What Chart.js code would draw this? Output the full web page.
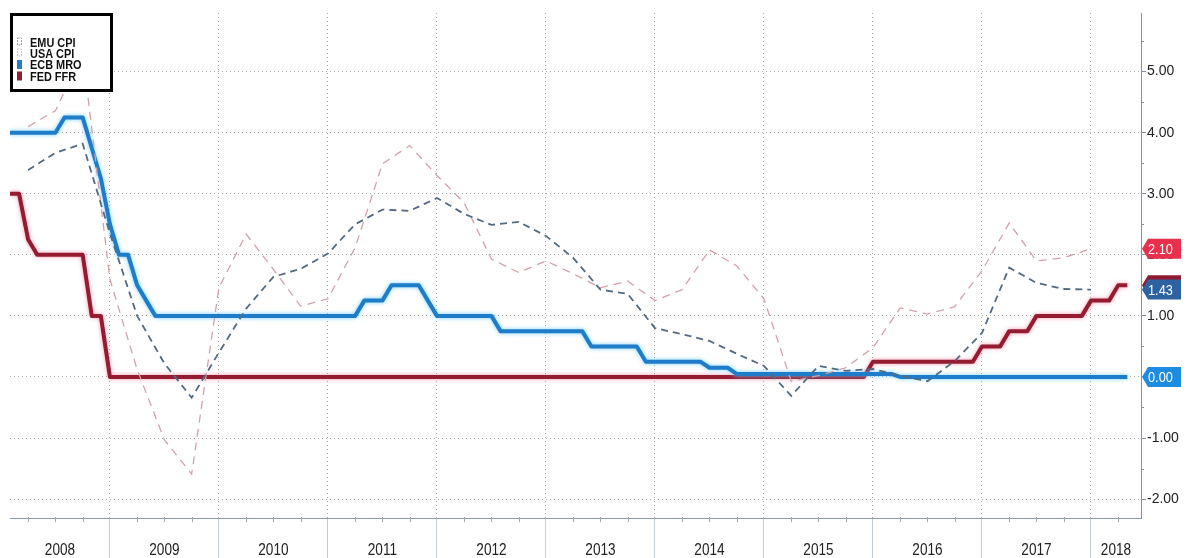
<!DOCTYPE html>
<html>
<head>
<meta charset="utf-8">
<script src="https://cdn.jsdelivr.net/npm/chart.js@4.4.1/dist/chart.umd.min.js"></script>
<style>
html,body{margin:0;padding:0;background:#fff;}
#wrap{width:1189px;height:558px;position:relative;}
canvas{display:block;}
</style>
</head>
<body>
<div id="wrap"><canvas id="c" width="1189" height="558"></canvas></div>
<script>
// ---------------- DATA ----------------
const seriesNames = ['EMU CPI', 'USA CPI', 'ECB MRO', 'FED FFR'];
const yearLabels = ['2008','2009','2010','2011','2012','2013','2014','2015','2016','2017','2018'];
const yTickValues = [-2, -1, 0, 1, 2, 3, 4, 5];

// Quarterly CPI (y/y %), quarter ends Q1 2008 .. Q4 2017
const emuCpi = [
  3.39, 3.67, 3.82, 2.35,   // 2008
  1.00, 0.22, -0.34, 0.40,  // 2009
  1.12, 1.64, 1.77, 2.02,   // 2010
  2.50, 2.74, 2.72, 2.93,   // 2011
  2.67, 2.49, 2.54, 2.31,   // 2012
  1.95, 1.43, 1.36, 0.80,   // 2013
  0.70, 0.59, 0.38, 0.18,   // 2014
  -0.31, 0.18, 0.10, 0.13,  // 2015
  0.02, -0.07, 0.26, 0.72,  // 2016
  1.79, 1.54, 1.44, 1.43    // 2017
];
const usaCpi = [
  4.10, 4.36, 5.30, 1.60,   // 2008
  0.12, -1.03, -1.59, 1.46, // 2009
  2.34, 1.76, 1.16, 1.28,   // 2010
  2.12, 3.49, 3.79, 3.30,   // 2011
  2.85, 1.93, 1.71, 1.90,   // 2012
  1.69, 1.46, 1.57, 1.25,   // 2013
  1.43, 2.08, 1.82, 1.28,   // 2014
  -0.07, 0.02, 0.15, 0.48,  // 2015
  1.13, 1.03, 1.15, 1.74,   // 2016
  2.52, 1.90, 1.95, 2.10    // 2017
];

// Monthly policy rates (%), month ends Jan 2008 .. Apr 2018
const ecbMro = [
  4.00,4.00,4.00,4.00,4.00,4.00,4.25,4.25,4.25,3.75,3.25,2.50, // 2008
  2.00,2.00,1.50,1.25,1.00,1.00,1.00,1.00,1.00,1.00,1.00,1.00, // 2009
  1.00,1.00,1.00,1.00,1.00,1.00,1.00,1.00,1.00,1.00,1.00,1.00, // 2010
  1.00,1.00,1.00,1.25,1.25,1.25,1.50,1.50,1.50,1.50,1.25,1.00, // 2011
  1.00,1.00,1.00,1.00,1.00,1.00,0.75,0.75,0.75,0.75,0.75,0.75, // 2012
  0.75,0.75,0.75,0.75,0.50,0.50,0.50,0.50,0.50,0.50,0.25,0.25, // 2013
  0.25,0.25,0.25,0.25,0.25,0.15,0.15,0.15,0.05,0.05,0.05,0.05, // 2014
  0.05,0.05,0.05,0.05,0.05,0.05,0.05,0.05,0.05,0.05,0.05,0.05, // 2015
  0.05,0.05,0.00,0.00,0.00,0.00,0.00,0.00,0.00,0.00,0.00,0.00, // 2016
  0.00,0.00,0.00,0.00,0.00,0.00,0.00,0.00,0.00,0.00,0.00,0.00, // 2017
  0.00,0.00,0.00,0.00                                          // 2018
];
const fedFfr = [
  3.00,3.00,2.25,2.00,2.00,2.00,2.00,2.00,2.00,1.00,1.00,0.00, // 2008
  0,0,0,0,0,0,0,0,0,0,0,0,                                     // 2009
  0,0,0,0,0,0,0,0,0,0,0,0,                                     // 2010
  0,0,0,0,0,0,0,0,0,0,0,0,                                     // 2011
  0,0,0,0,0,0,0,0,0,0,0,0,                                     // 2012
  0,0,0,0,0,0,0,0,0,0,0,0,                                     // 2013
  0,0,0,0,0,0,0,0,0,0,0,0,                                     // 2014
  0,0,0,0,0,0,0,0,0,0,0,0.25,                                  // 2015
  0.25,0.25,0.25,0.25,0.25,0.25,0.25,0.25,0.25,0.25,0.25,0.50, // 2016
  0.50,0.50,0.75,0.75,0.75,1.00,1.00,1.00,1.00,1.00,1.00,1.25, // 2017
  1.25,1.25,1.50,1.50                                          // 2018
];

// ---------------- STYLE ----------------
const seriesColors = ['#536a80', '#cfa2a8', '#1f7cc8', '#931c31'];
const labelBoxColors = ['#2d62a0', '#e8304d', '#1c8be0', '#8e1b30'];
const FONT = "'Liberation Sans', Arial, sans-serif";

const quarterly = arr => arr.map((v, i) => ({ x: 2008 + (i + 1) / 4, y: v }));
const monthly = arr => arr.map((v, i) => ({ x: 2008 + (i + 1) / 12, y: v }));

const X_MIN = 2008 + 1 / 12;
const X_MAX = 2018.459;

function narrowText(ctx, text, x, y, sx) {
  ctx.save();
  ctx.translate(x, y);
  ctx.scale(sx, 1);
  ctx.fillText(text, 0, 0);
  ctx.restore();
}

const decor = {
  id: 'decor',
  beforeDatasetDraw(chart, args) {
    const ds = chart.data.datasets[args.index];
    if (ds.glow) {
      const ctx = chart.ctx;
      ctx.save();
      ctx.shadowColor = ds.glow;
      ctx.shadowBlur = 4;
      ctx.shadowOffsetX = 0;
      ctx.shadowOffsetY = 0;
    }
  },
  afterDatasetDraw(chart, args) {
    const ds = chart.data.datasets[args.index];
    if (ds.glow) chart.ctx.restore();
  },
  afterDraw(chart) {
    const ctx = chart.ctx;
    const xs = chart.scales.x, ys = chart.scales.y;
    const ca = chart.chartArea;
    ctx.save();

    // minor quarter ticks on x axis
    ctx.strokeStyle = '#9aa8b6';
    ctx.lineWidth = 1;
    yearLabels.forEach(yl => {
      const yr = +yl;
      [0.25, 0.5, 0.75].forEach(q => {
        const v = yr + q;
        if (v > X_MIN && v < X_MAX) {
          const px = Math.round(xs.getPixelForValue(v)) + 0.5;
          ctx.beginPath();
          ctx.moveTo(px, ca.bottom - 1);
          ctx.lineTo(px, ca.bottom + 4);
          ctx.stroke();
        }
      });
    });
    // minor half ticks on y axis
    ctx.strokeStyle = '#7f93a8';
    yTickValues.forEach(v => {
      const vv = v + 0.5;
      const py = Math.round(ys.getPixelForValue(vv)) + 0.5;
      ctx.beginPath();
      ctx.moveTo(ca.right, py);
      ctx.lineTo(ca.right + 3, py);
      ctx.stroke();
    });

    // year labels centred in each year band
    ctx.fillStyle = '#222';
    ctx.font = '17px ' + FONT;
    ctx.textAlign = 'center';
    ctx.textBaseline = 'alphabetic';
    yearLabels.forEach(yl => {
      const yr = +yl;
      const l = Math.max(ca.left, xs.getPixelForValue(yr));
      const r = Math.min(ca.right, xs.getPixelForValue(yr + 1));
      narrowText(ctx, yl, (l + r) / 2, 555, 0.8);
    });

    // last-value boxes on right axis
    const drawOrder = [3, 0, 1, 2];
    ctx.font = '15px ' + FONT;
    ctx.textAlign = 'left';
    ctx.textBaseline = 'middle';
    drawOrder.forEach(di => {
      const data = chart.data.datasets[di].data;
      const last = data[data.length - 1].y;
      const py = ys.getPixelForValue(last);
      const x0 = ca.right + 1;
      ctx.fillStyle = labelBoxColors[di];
      ctx.beginPath();
      ctx.moveTo(x0, py);
      ctx.lineTo(x0 + 6, py - 10);
      ctx.lineTo(x0 + 39, py - 10);
      ctx.lineTo(x0 + 39, py + 10);
      ctx.lineTo(x0 + 6, py + 10);
      ctx.closePath();
      ctx.fill();
      ctx.fillStyle = '#fff';
      narrowText(ctx, last.toFixed(2), x0 + 6, py + 1, 0.85);
    });

    // legend box
    ctx.fillStyle = '#fff';
    ctx.fillRect(10, 13, 103, 79);
    ctx.strokeStyle = '#000';
    ctx.lineWidth = 3;
    ctx.strokeRect(11.5, 14.5, 100, 76);
    ctx.font = 'bold 13px ' + FONT;
    ctx.textAlign = 'left';
    ctx.textBaseline = 'alphabetic';
    const baselines = [46.5, 57.5, 69, 80.5];
    seriesNames.forEach((name, i) => {
      const b = baselines[i];
      if (i < 2) {
        ctx.save();
        ctx.strokeStyle = i === 0 ? '#8ea2b6' : '#e2b7bd';
        ctx.lineWidth = 1;
        ctx.setLineDash([2, 1]);
        ctx.strokeRect(17.5, b - 8.5, 4, 7);
        ctx.restore();
      } else {
        ctx.fillStyle = seriesColors[i];
        ctx.fillRect(17, b - 9, 5, 9);
      }
      ctx.fillStyle = '#111';
      narrowText(ctx, name, 30, b, 0.84);
    });
    ctx.restore();
  }
};

const ctxEl = document.getElementById('c');
new Chart(ctxEl, {
  type: 'line',
  data: {
    datasets: [
      { label: seriesNames[0], data: quarterly(emuCpi), borderColor: seriesColors[0], borderWidth: 1.8,
        borderDash: [7, 5], pointRadius: 0, tension: 0, order: 0 },
      { label: seriesNames[1], data: quarterly(usaCpi), borderColor: seriesColors[1], borderWidth: 1.3,
        borderDash: [8, 6], pointRadius: 0, tension: 0, order: 1 },
      { label: seriesNames[2], data: monthly(ecbMro), borderColor: seriesColors[2], borderWidth: 4,
        pointRadius: 0, tension: 0, order: 2, borderJoinStyle: 'round', glow: 'rgba(110,205,255,0.95)' },
      { label: seriesNames[3], data: monthly(fedFfr), borderColor: seriesColors[3], borderWidth: 4,
        pointRadius: 0, tension: 0, order: 3, borderJoinStyle: 'round', glow: 'rgba(245,140,165,0.9)' }
    ]
  },
  options: {
    responsive: false,
    animation: false,
    devicePixelRatio: 1,
    layout: { padding: { left: 10, top: 13, right: 0, bottom: 0 } },
    plugins: { legend: { display: false }, tooltip: { enabled: false } },
    scales: {
      x: {
        type: 'linear',
        position: 'bottom',
        min: X_MIN,
        max: X_MAX,
        afterBuildTicks: s => { s.ticks = yearLabels.map(Number).filter(v => v > X_MIN && v < X_MAX).map(v => ({ value: v })); },
        afterFit: s => { s.height = 40; },
        ticks: { display: false },
        grid: { color: '#a9a9a9', lineWidth: 1, drawTicks: true, tickLength: 40, tickColor: '#c3ccd6', tickWidth: 1, tickBorderDash: [] },
        border: { display: true, color: '#8d9cab', width: 1, dash: [1, 3] }
      },
      y: {
        type: 'linear',
        position: 'right',
        min: -2.31,
        max: 5.96,
        afterBuildTicks: s => { s.ticks = yTickValues.map(v => ({ value: v })); },
        afterFit: s => { s.width = 48; },
        ticks: { color: '#222', font: { family: FONT, size: 14 }, padding: 1, autoSkip: false,
                 callback: v => Number(v).toFixed(2) },
        grid: { color: '#a9a9a9', lineWidth: 1, drawTicks: true, tickLength: 5, tickColor: '#7f93a8', tickBorderDash: [] },
        border: { display: true, color: '#7f93a8', width: 1, dash: [1, 3] }
      }
    }
  },
  plugins: [decor]
});
</script>
</body>
</html>
